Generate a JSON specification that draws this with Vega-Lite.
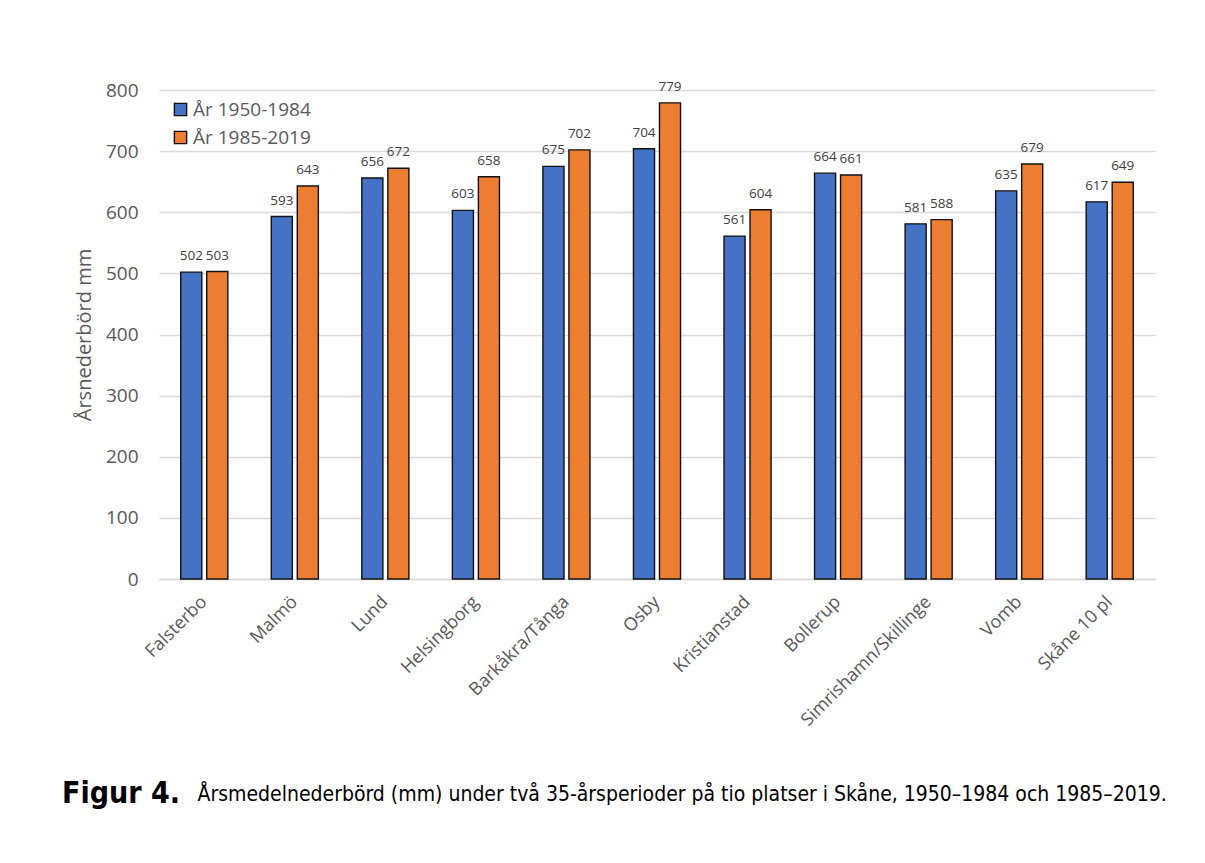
{
  "$schema": "https://vega.github.io/schema/vega-lite/v6.json",
  "width": 996,
  "height": 489,
  "autosize": {"type": "none"},
  "padding": {"left": 159, "top": 90, "right": 50, "bottom": 284},
  "background": "white",
  "title": {
    "text": "Figur 4.",
    "orient": "bottom",
    "anchor": "start",
    "frame": "group",
    "font": "DejaVu Sans Condensed, DejaVu Sans",
    "fontSize": 30,
    "fontWeight": "bold",
    "color": "black",
    "baseline": "alphabetic",
    "dx": -97,
    "offset": -1
  },
  "config": {
    "view": {"stroke": null},
    "font": "Open Sans"
  },
  "data": {
    "values": [
      {"plats": "Falsterbo", "period": "År 1950-1984", "mm": 502},
      {"plats": "Falsterbo", "period": "År 1985-2019", "mm": 503},
      {"plats": "Malmö", "period": "År 1950-1984", "mm": 593},
      {"plats": "Malmö", "period": "År 1985-2019", "mm": 643},
      {"plats": "Lund", "period": "År 1950-1984", "mm": 656},
      {"plats": "Lund", "period": "År 1985-2019", "mm": 672},
      {"plats": "Helsingborg", "period": "År 1950-1984", "mm": 603},
      {"plats": "Helsingborg", "period": "År 1985-2019", "mm": 658},
      {"plats": "Barkåkra/Tånga", "period": "År 1950-1984", "mm": 675},
      {"plats": "Barkåkra/Tånga", "period": "År 1985-2019", "mm": 702},
      {"plats": "Osby", "period": "År 1950-1984", "mm": 704},
      {"plats": "Osby", "period": "År 1985-2019", "mm": 779},
      {"plats": "Kristianstad", "period": "År 1950-1984", "mm": 561},
      {"plats": "Kristianstad", "period": "År 1985-2019", "mm": 604},
      {"plats": "Bollerup", "period": "År 1950-1984", "mm": 664},
      {"plats": "Bollerup", "period": "År 1985-2019", "mm": 661},
      {"plats": "Simrishamn/Skillinge", "period": "År 1950-1984", "mm": 581},
      {"plats": "Simrishamn/Skillinge", "period": "År 1985-2019", "mm": 588},
      {"plats": "Vomb", "period": "År 1950-1984", "mm": 635},
      {"plats": "Vomb", "period": "År 1985-2019", "mm": 679},
      {"plats": "Skåne 10 pl", "period": "År 1950-1984", "mm": 617},
      {"plats": "Skåne 10 pl", "period": "År 1985-2019", "mm": 649}
    ]
  },
  "encoding": {
    "x": {
      "field": "plats",
      "type": "nominal",
      "sort": null,
      "scale": {"paddingInner": 0.48, "paddingOuter": 0.24},
      "axis": {
        "title": "Årsmedelnederbörd (mm) under två 35-årsperioder på tio platser i Skåne, 1950–1984 och 1985–2019.",
        "titleFont": "DejaVu Sans Condensed, DejaVu Sans",
        "titleFontSize": 21,
        "titleFontWeight": "normal",
        "titleColor": "black",
        "titleAnchor": "start",
        "titleAlign": "left",
        "titleBaseline": "alphabetic",
        "titleX": 38,
        "titleY": 221,
        "labelAngle": -45,
        "labelAlign": "right",
        "labelBaseline": "middle",
        "labelFont": "Open Sans",
        "labelFontSize": 18,
        "labelColor": "#595959",
        "labelPadding": 20,
        "ticks": false,
        "domainColor": "#d9d9d9",
        "domainWidth": 1.5
      }
    },
    "xOffset": {
      "field": "period",
      "type": "nominal",
      "sort": null,
      "scale": {"paddingInner": 0.19}
    },
    "y": {
      "field": "mm",
      "type": "quantitative",
      "scale": {"domain": [0, 800]},
      "axis": {
        "title": "Årsnederbörd mm",
        "titleFont": "Open Sans",
        "titleFontSize": 20,
        "titleFontWeight": "normal",
        "titleColor": "#595959",
        "titlePadding": 11,
        "values": [0, 100, 200, 300, 400, 500, 600, 700, 800],
        "labelFont": "Open Sans",
        "labelFontSize": 19,
        "labelColor": "#595959",
        "labelPadding": 21,
        "ticks": false,
        "domain": false,
        "gridColor": "#d9d9d9",
        "gridWidth": 1.3
      }
    }
  },
  "layer": [
    {
      "mark": {"type": "bar", "stroke": "#111111", "strokeWidth": 1.4},
      "encoding": {
        "color": {
          "field": "period",
          "type": "nominal",
          "sort": null,
          "scale": {"range": ["#4472C4", "#ED7D31"]},
          "legend": {
            "orient": "none",
            "legendX": 12,
            "legendY": 10,
            "title": null,
            "symbolType": "square",
            "symbolSize": 150,
            "symbolStrokeColor": "#111111",
            "symbolStrokeWidth": 1.4,
            "symbolOpacity": 1,
            "labelFont": "Open Sans",
            "labelFontSize": 19,
            "labelColor": "#595959",
            "labelOffset": 3,
            "rowPadding": 8
          }
        }
      }
    },
    {
      "mark": {
        "type": "text",
        "baseline": "alphabetic",
        "dy": -12,
        "font": "Open Sans",
        "fontSize": 13.5,
        "color": "#404040"
      },
      "encoding": {
        "text": {"field": "mm", "type": "quantitative"}
      }
    }
  ]
}
